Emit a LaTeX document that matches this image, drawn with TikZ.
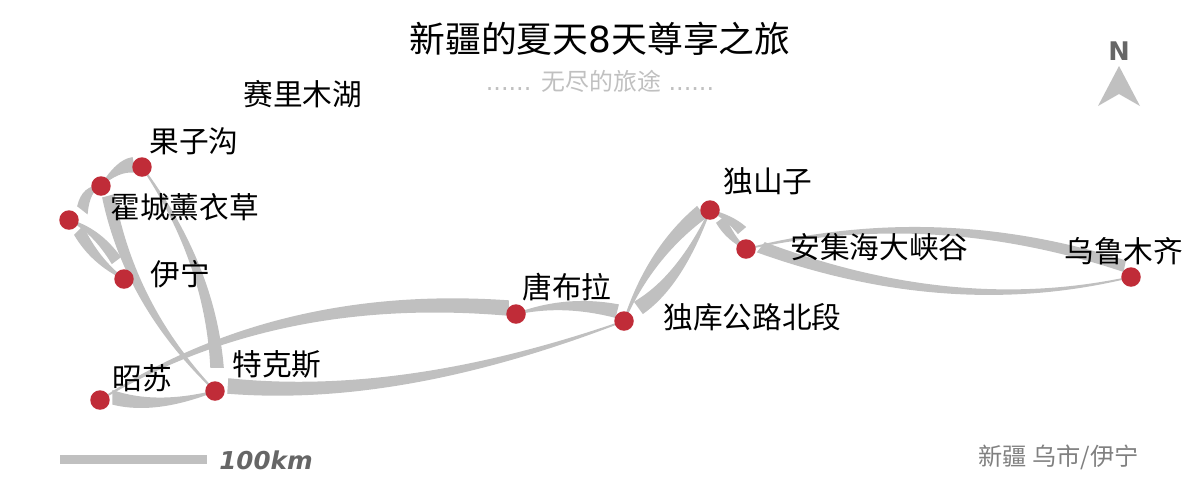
\documentclass[tikz,border=0pt]{standalone}
\usepackage{fontspec}
\setmainfont{DejaVu Sans}
\newfontfamily\cjk{Noto Sans CJK SC}
\usetikzlibrary{calc,backgrounds}
\definecolor{routegrey}{HTML}{C0C0C0}
\definecolor{placered}{HTML}{C02C38}
\tikzset{
  place/.style={circle, fill=placered, minimum size=0.39cm, inner sep=0},
  placename/.style={anchor=west, inner sep=0, font=\cjk\fontsize{16.9}{16.9}\selectfont},
  leg/.style={fill=routegrey, draw=routegrey, line width=0.03cm, line join=miter},
}
% narrow end node, wide end node, the two corners of the wide end, bend point
\newcommand{\leg}[5]{
  \coordinate (wa) at ($(#2)+(#3)$);
  \coordinate (wb) at ($(#2)+(#4)$);
  \coordinate (wm) at ($(wa)!0.5!(wb)$);
  \coordinate (ca) at ($(#1)!0.667!(#5)$);
  \coordinate (cb) at ($(wm)!0.667!(#5)$);
  \coordinate (wd) at ($(wb)-(wa)$);
  \filldraw[leg] (#1.center) .. controls ($(ca)-0.22*(wd)$) and ($(cb)-0.4*(wd)$) .. (wa) -- (wb) .. controls ($(cb)+0.4*(wd)$) and ($(ca)+0.22*(wd)$) .. (#1.center) -- cycle;
}
\begin{document}
\begin{tikzpicture}[x=0.02cm, y=-0.02cm]
  \useasboundingbox (0,0) rectangle (1200,488);
  \node[place] (guozigou) at (142,167) {};
  \node[place] (huocheng) at (101,186) {};
  \node[place] (sailimu) at (69,220) {};
  \node[place] (yining) at (124,279) {};
  \node[place] (zhaosu) at (100,400) {};
  \node[place] (tekesi) at (215,391) {};
  \node[place] (tangbula) at (516,314) {};
  \node[place] (duku) at (624,321) {};
  \node[place] (dushanzi) at (710,210) {};
  \node[place] (anji) at (746,249) {};
  \node[place] (urumqi) at (1131,277) {};
  \begin{scope}[on background layer]
    \leg{anji}{urumqi}{-6,-16}{-8,-6}{935,204.5}
    \leg{urumqi}{anji}{12,3}{19,-6}{954,318}
    \leg{dushanzi}{anji}{-1,-22}{-8,-16}{730,218}
    \leg{anji}{dushanzi}{7,13}{15,7}{730,238}
    \leg{duku}{dushanzi}{-13,-3}{-5,8}{650,253}
    \leg{dushanzi}{duku}{11,-19}{19,-8}{680,281}
    \leg{tangbula}{duku}{-6,-16}{-9,-4}{564,299.5}
    \leg{duku}{tekesi}{14,-12}{13,2}{404,402}
    \leg{zhaosu}{tangbula}{-8,-13}{-8,1}{276,290}
    \leg{tekesi}{zhaosu}{13,-9}{13,4}{156,410}
    \leg{guozigou}{tekesi}{-4,-24}{8,-24}{210,263}
    \leg{tekesi}{huocheng}{2,12}{13,9}{130,306}
    \leg{huocheng}{guozigou}{-10,-9}{-7,5}{118,165}
    \leg{huocheng}{sailimu}{9,-14}{18,-7}{86,188}
    \leg{sailimu}{yining}{-4,-22}{-12,-16}{96,230}
    \leg{yining}{sailimu}{6,15}{14,7}{95,261}
  \end{scope}
  \node[placename] (guozigoulabel) at (149,141) {果子沟};
  \node[placename] (huochenglabel) at (110,207) {霍城薰衣草};
  \node[placename] (sailimulabel) at (243,94) {赛里木湖};
  \node[placename] (yininglabel) at (150,274) {伊宁};
  \node[placename] (zhaosulabel) at (112,378) {昭苏};
  \node[placename] (tekesilabel) at (232,364) {特克斯};
  \node[placename] (tangbulalabel) at (522,287) {唐布拉};
  \node[placename] (dukulabel) at (663,317) {独库公路北段};
  \node[placename] (dushanzilabel) at (723,181) {独山子};
  \node[placename] (anjilabel) at (790,247) {安集海大峡谷};
  \node[placename] (urumqilabel) at (1064,251) {乌鲁木齐};
  \node[inner sep=0, font=\fontsize{20.4}{20.4}\selectfont] (title) at (600,39) {{\cjk 新疆的夏天}8{\cjk 天尊享之旅}};
  \node[inner sep=0, text=routegrey, font=\fontsize{13.6}{13.6}\selectfont] (subtitle) at (600,81.5) {...... {\cjk 无尽的旅途} ......};
  % north arrow
  \node[inner sep=0, text=black!60, font=\bfseries\fontsize{14.6}{14.6}\selectfont] (north) at (1119,51) {N};
  \fill[routegrey] (1119,66) -- (1140,106) -- (1119,94) -- (1098,106) -- cycle;
  % scale bar
  \coordinate (barstart) at (60,459);
  \coordinate (barend) at (207,459);
  \draw[routegrey, line width=0.18cm] (barstart) -- (barend);
  \node[anchor=west, inner sep=0, text=black!60, font=\bfseries\itshape\fontsize{14}{14}\selectfont] (barlabel) at (219,460) {100km};
  \node[anchor=east, inner sep=0, text=black!50, font=\cjk\fontsize{13.8}{13.8}\selectfont] (region) at (1139,457) {新疆 乌市/伊宁};
\end{tikzpicture}
\end{document}
